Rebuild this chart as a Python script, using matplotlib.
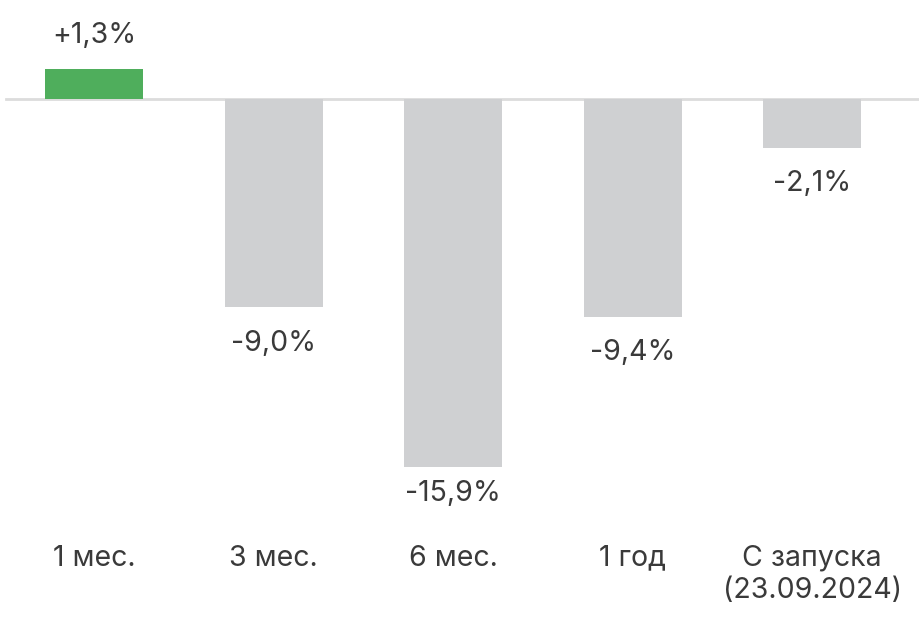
import matplotlib
matplotlib.use("Agg")
import matplotlib.pyplot as plt

# данные
periods = ["1 мес.", "3 мес.", "6 мес.", "1 год", "С запуска\n(23.09.2024)"]
returns = [1.3, -9.0, -15.9, -9.4, -2.1]
labels = ["+1,3%", "-9,0%", "-15,9%", "-9,4%", "-2,1%"]

plt.rcParams['font.family'] = ['Inter', 'DejaVu Sans']

fig = plt.figure(figsize=(9.19, 6.21), dpi=100)
ax = fig.add_axes([0, 0, 1, 1])

pos_color = "#4fae5c"
neg_color = "#cfd0d2"
text_color = "#3a3a3a"

x = list(range(len(returns)))
colors = [pos_color if v > 0 else neg_color for v in returns]
ax.bar(x, returns, width=0.546, color=colors, zorder=2)

# линия нуля
ax.axhline(0, xmin=6 / 919, xmax=1, color="#dcdcdc", linewidth=2, zorder=1)

for i, v in enumerate(returns):
    if v > 0:
        ty = v + 1.45
    else:
        ty = max(v - 1.55, -17.05)
    ax.text(i, ty, labels[i], ha="center", va="center", fontsize=20.5, color=text_color)
    ax.text(i, -19.25, periods[i], ha="center", va="top", fontsize=20.5,
            color=text_color, linespacing=1.25)

ax.set_xlim(-0.524, 4.596)
ax.set_ylim(-22.55, 4.28)
ax.axis("off")

fig.savefig("out.png", dpi=100)
